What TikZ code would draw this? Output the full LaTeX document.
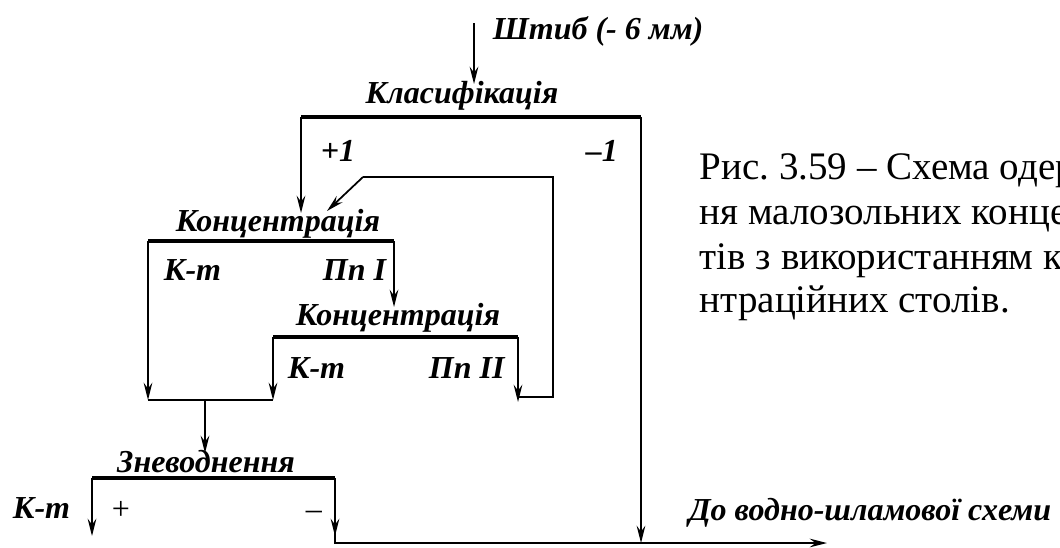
\documentclass[tikz,border=0pt]{standalone}
\usepackage{fontspec}
\setmainfont{Liberation Serif}
\usetikzlibrary{arrows.meta}
\begin{document}
\frenchspacing
\begin{tikzpicture}[x=0.75pt,y=-0.75pt, line width=1.3pt,
  lbl/.style={font=\fontsize{24}{28}\selectfont\bfseries\itshape, inner sep=0pt, anchor=base west},
  lblc/.style={font=\fontsize{24}{28}\selectfont\bfseries\itshape, inner sep=0pt, anchor=base},
  sign/.style={font=\fontsize{24}{28}\selectfont, inner sep=0pt, anchor=base west},
  arr/.style={-{Stealth[length=13pt,width=6.5pt,inset=4.5pt]}},
  bar/.style={line width=3.6pt},
  captext/.style={font=\fontsize{29.25}{33.75}\selectfont, inner sep=0pt, anchor=base west}]
\useasboundingbox (0,0) rectangle (1060,547);
\clip (0,0) rectangle (1060,547);

% coordinates
\coordinate (src) at (474,23);
\coordinate (srcend) at (474,84);
\coordinate (k1L) at (301,117);
\coordinate (k1R) at (641,117);
\coordinate (k1Lend) at (301,213);
\coordinate (k1Rend) at (641,543);
\coordinate (c1L) at (148,241);
\coordinate (c1R) at (394,241);
\coordinate (c1Lend) at (148,400);
\coordinate (c1Rend) at (394,307);
\coordinate (c2L) at (273,337);
\coordinate (c2R) at (518,337);
\coordinate (c2Lend) at (273,400);
\coordinate (c2Rend) at (518,402);
\coordinate (r1) at (518,397);
\coordinate (r2) at (553,397);
\coordinate (r3) at (553,177);
\coordinate (r4) at (363,177);
\coordinate (r5) at (327,211);
\coordinate (j1) at (148,400);
\coordinate (j2) at (273,400);
\coordinate (jm) at (205,400);
\coordinate (jmend) at (205,453);
\coordinate (zL) at (92,478);
\coordinate (zR) at (335,478);
\coordinate (zLend) at (92,536);
\coordinate (zRend) at (335,536);
\coordinate (zRbot) at (335,543);
\coordinate (outend) at (827,543);

% bars
\draw[bar] (k1L) -- (k1R);
\draw[bar] (c1L) -- (c1R);
\draw[bar] (c2L) -- (c2R);
\draw[bar] (zL) -- (zR);

% flows
\draw[arr] (src) -- (srcend);
\draw[arr] (k1L) -- (k1Lend);
\draw[arr] (k1R) -- (k1Rend);
\draw[arr] (c1L) -- (c1Lend);
\draw[arr] (c1R) -- (c1Rend);
\draw[arr] (c2L) -- (c2Lend);
\draw[arr] (c2R) -- (c2Rend);
\draw (r1) -- (r2) -- (r3) -- (r4);
\draw[arr] (r4) -- (r5);
\draw (j1) -- (j2);
\draw[arr] (jm) -- (jmend);
\draw[arr] (zL) -- (zLend);
\draw[arr] (zR) -- (zRend);
\draw[arr] (zR) -- (zRbot) -- (outend);

% labels
\node[lbl] (tsrc) at (492,39) {Штиб (- 6 мм)};
\node[lblc] (tk1) at (462,103) {Класифікація};
\node[lbl] (tp1) at (320,161) {+1};
\node[lbl] (tm1) at (585,161) {–1};
\node[lblc] (tc1) at (278,231) {Концентрація};
\node[lbl] (tc1a) at (163,280) {К-т};
\node[lbl] (tc1b) at (322,280) {Пп I};
\node[lblc] (tc2) at (398,325) {Концентрація};
\node[lbl] (tc2a) at (287,378) {К-т};
\node[lbl] (tc2b) at (428,378) {Пп II};
\node[lblc] (tz) at (206,472) {Зневоднення};
\node[lbl] (tza) at (12,518) {К-т};
\node[sign] (tzp) at (111,519) {+};
\node[sign] (tzm) at (305,519) {–};
\node[lbl] (tout) at (688,520) {До водно-шламової схеми};

% caption
\node[captext] (cap1) at (699,179) {Рис. 3.59 – Схема одер};
\node[captext] (cap2) at (699,224) {ня малозольних концен};
\node[captext] (cap3) at (699,269) {тів з використанням ко};
\node[captext] (cap4) at (699,312) {нтраційних столів.};
\end{tikzpicture}
\end{document}
